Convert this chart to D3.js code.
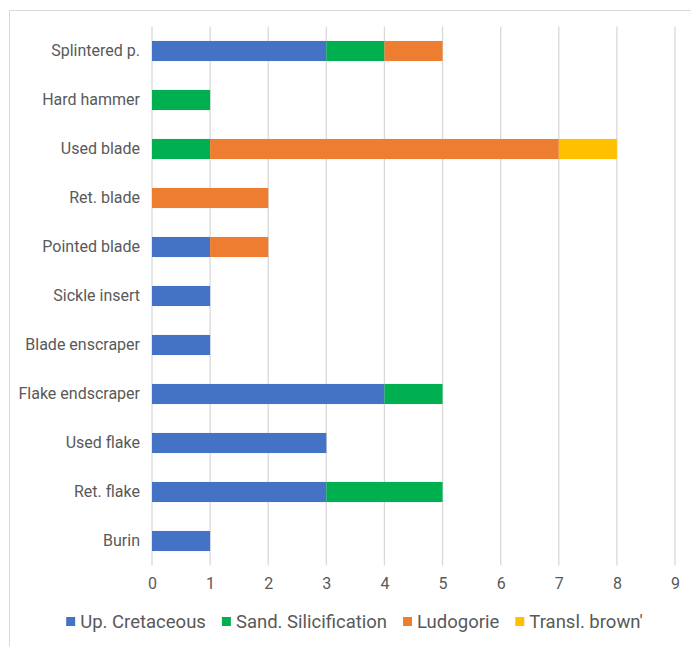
<!DOCTYPE html>
<html>
<head>
<meta charset="utf-8">
<script src="https://cdn.jsdelivr.net/npm/d3@7"></script>
<style>
  body { margin: 0; background: #fff; }
  text { font-family: Roboto, "Open Sans", sans-serif; fill: #595959; }
</style>
</head>
<body>
<div id="chart"></div>
<script>
var categories = ["Splintered p.", "Hard hammer", "Used blade", "Ret. blade", "Pointed blade",
  "Sickle insert", "Blade enscraper", "Flake endscraper", "Used flake", "Ret. flake", "Burin"];
var seriesNames = ["Up. Cretaceous", "Sand. Silicification", "Ludogorie", "Transl. brown'"];
var upCretaceous = [3, 0, 0, 0, 1, 1, 1, 4, 3, 3, 1];
var sandSilicification = [1, 1, 1, 0, 0, 0, 0, 1, 0, 2, 0];
var ludogorie = [1, 0, 6, 2, 1, 0, 0, 0, 0, 0, 0];
var translBrown = [0, 0, 1, 0, 0, 0, 0, 0, 0, 0, 0];
var colors = ["#4472C4", "#00B050", "#ED7D31", "#FFC000"];
var xTicks = [0, 1, 2, 3, 4, 5, 6, 7, 8, 9];

var width = 691, height = 646;
var plotLeft = 152, plotRight = 675, plotTop = 26.5, plotBottom = 565.5;

var rows = categories.map(function(c, i) {
  return {cat: c, "Up. Cretaceous": upCretaceous[i], "Sand. Silicification": sandSilicification[i],
    "Ludogorie": ludogorie[i], "Transl. brown'": translBrown[i]};
});
var stacked = d3.stack().keys(seriesNames)(rows);

var svg = d3.select("#chart").append("svg")
  .attr("width", width)
  .attr("height", height);

// chart frame
svg.append("rect")
  .attr("x", 9.5).attr("y", 10.5)
  .attr("width", 700).attr("height", 700)
  .attr("fill", "none")
  .attr("stroke", "#d9d9d9")
  .attr("stroke-width", 1);

var x = d3.scaleLinear().domain([0, 9]).range([plotLeft, plotRight]);
var y = d3.scaleBand().domain(categories).range([plotTop, plotBottom]).paddingInner(0.59).paddingOuter(0.295);

// gridlines
svg.append("g").selectAll("line")
  .data(xTicks)
  .enter().append("line")
  .attr("x1", function(d) { return x(d); })
  .attr("x2", function(d) { return x(d); })
  .attr("y1", plotTop)
  .attr("y2", plotBottom)
  .attr("stroke", "#d9d9d9")
  .attr("stroke-width", 1.3);

// bars
svg.append("g").selectAll("g")
  .data(stacked)
  .enter().append("g")
  .attr("fill", function(d, i) { return colors[i]; })
  .selectAll("rect")
  .data(function(d) { return d.filter(function(s) { return s[1] > s[0]; }); })
  .enter().append("rect")
  .attr("x", function(d) { return x(d[0]); })
  .attr("width", function(d) { return x(d[1]) - x(d[0]); })
  .attr("y", function(d) { return y(d.data.cat); })
  .attr("height", y.bandwidth());

// x axis labels
var xAxis = svg.append("g")
  .attr("transform", "translate(0," + plotBottom + ")")
  .call(d3.axisBottom(x).tickValues(xTicks).tickSize(0).tickPadding(12));
xAxis.select(".domain").remove();
xAxis.selectAll("text").style("font-size", "16px").attr("fill", "#595959");

// category labels
var yAxis = svg.append("g")
  .attr("transform", "translate(" + (plotLeft - 12) + ",0)")
  .call(d3.axisLeft(y).tickSize(0).tickPadding(0));
yAxis.select(".domain").remove();
yAxis.selectAll("text").style("font-size", "16px").attr("fill", "#595959");

// legend
var legend = svg.append("g").attr("transform", "translate(0,622)");
var items = legend.selectAll("g")
  .data(seriesNames)
  .enter().append("g");
items.append("rect")
  .attr("width", 9).attr("height", 9)
  .attr("y", -5)
  .attr("fill", function(d, i) { return colors[i]; });
items.append("text")
  .attr("x", 14)
  .attr("dy", "0.35em")
  .style("font-size", "18.5px")
  .text(function(d) { return d; });

var offsets = [], pos = 0;
items.each(function(d) {
  offsets.push(pos);
  pos += 14 + d3.select(this).select("text").node().getComputedTextLength() + 16;
});
var total = pos - 16;
var start = 354.5 - total / 2;
items.attr("transform", function(d, i) { return "translate(" + (start + offsets[i]) + ",0)"; });
</script>
</body>
</html>
